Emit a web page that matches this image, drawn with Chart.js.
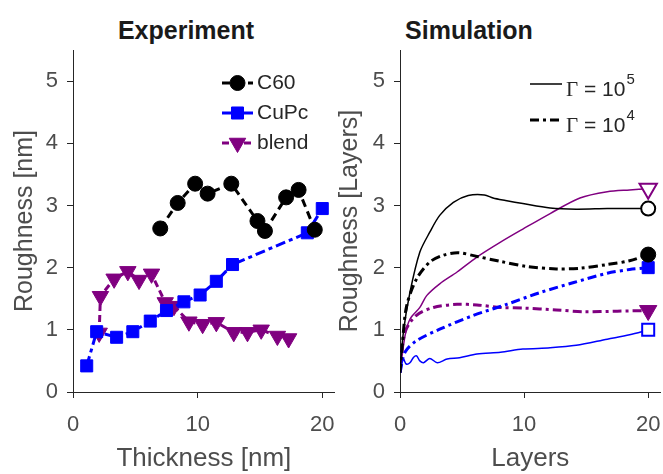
<!DOCTYPE html>
<html>
<head>
<meta charset="utf-8">
<script src="https://cdn.jsdelivr.net/npm/chart.js@4/dist/chart.umd.min.js"></script>
<style>
  body { margin: 0; background: #fff; }
  #wrap { position: relative; width: 663px; height: 474px; overflow: hidden; }
  canvas { position: absolute; top: 0; }
  .panel-title { position: absolute; top: 18px; width: 200px; text-align: center;
    font: bold 25px/25px 'Liberation Sans', Arial, sans-serif; color: #1a1a1a; }
</style>
</head>
<body>
<div id="wrap">
  <div class="panel-title" style="left:86px">Experiment</div>
  <div class="panel-title" style="left:369px">Simulation</div>
  <canvas id="exp" width="349" height="474" style="left:0"></canvas>
  <canvas id="sim" width="340" height="474" style="left:335px"></canvas>
</div>
<script>
// tick labels
const xTicks = [0, 10, 20];
const yTicks = [0, 1, 2, 3, 4, 5];

// experiment (thickness in nm, roughness in nm)
const c60X = [7.0, 8.4, 9.8, 10.8, 12.7, 14.8, 15.4, 17.1, 18.1, 19.4];
const c60Y = [2.63, 3.04, 3.35, 3.19, 3.35, 2.75, 2.59, 3.13, 3.25, 2.61];
const cupcX = [1.1, 1.9, 3.5, 4.8, 6.2, 7.5, 8.9, 10.2, 11.5, 12.8, 18.8, 20.0];
const cupcY = [0.42, 0.97, 0.88, 0.97, 1.14, 1.31, 1.45, 1.56, 1.78, 2.05, 2.56, 2.95];
const blendX = [2.1, 2.2, 3.3, 4.4, 5.3, 6.3, 7.4, 8.1, 9.3, 10.4, 11.5, 12.9, 14.0, 15.1, 16.4, 17.3];
const blendY = [0.95, 1.54, 1.82, 1.94, 1.80, 1.90, 1.44, 1.38, 1.13, 1.09, 1.12, 0.96, 0.96, 1.00, 0.90, 0.86];

// simulation (layers), G5 = Gamma 1e5, G4 = Gamma 1e4
const c60G5X = [0, 0.27, 0.8, 1.6, 2.4, 3.2, 4.3, 5.5, 6.8, 7.5, 8.5, 9.9, 12.1, 14.2, 16.7, 18.5, 20];
const c60G5Y = [0.31, 0.96, 1.6, 2.25, 2.57, 2.84, 3.05, 3.16, 3.17, 3.12, 3.08, 3.03, 2.96, 2.94, 2.95, 2.95, 2.95];
const c60G4X = [0, 0.2, 0.54, 1.34, 2.4, 3.5, 4.7, 6.2, 8.1, 10.2, 12.6, 14.5, 16.7, 18.5, 20];
const c60G4Y = [0.31, 0.8, 1.39, 1.82, 2.09, 2.2, 2.24, 2.18, 2.1, 2.02, 1.98, 1.99, 2.05, 2.11, 2.21];
const cupcG5X = [0, 0.27, 0.5, 0.8, 1.1, 1.34, 1.6, 1.9, 2.4, 3.0, 3.8, 4.8, 6.2, 8.1, 9.9, 12.1, 14.2, 16.7, 18.5, 20];
const cupcG5Y = [0.31, 0.53, 0.45, 0.47, 0.56, 0.58, 0.5, 0.47, 0.54, 0.47, 0.53, 0.55, 0.61, 0.64, 0.69, 0.71, 0.75, 0.85, 0.92, 1.0];
const cupcG4X = [0, 0.4, 1.3, 3.2, 5.9, 8.6, 11.3, 14.0, 16.7, 18.5, 20];
const cupcG4Y = [0.31, 0.64, 0.82, 1.01, 1.23, 1.41, 1.6, 1.76, 1.91, 1.97, 2.0];
const blendG5X = [0, 0.4, 0.8, 1.6, 2.15, 3.2, 4.6, 6.2, 8.1, 9.9, 12.1, 14.5, 16.7, 18.5, 20];
const blendG5Y = [0.31, 0.9, 1.17, 1.36, 1.55, 1.74, 1.93, 2.17, 2.41, 2.62, 2.87, 3.12, 3.22, 3.25, 3.27];
const blendG4X = [0, 0.4, 1.3, 2.7, 4.6, 6.2, 8.1, 9.9, 12.6, 14.8, 17.5, 20];
const blendG4Y = [0.31, 0.96, 1.23, 1.36, 1.41, 1.40, 1.36, 1.35, 1.32, 1.29, 1.30, 1.31];

const BLACK = '#000000';
const BLUE = '#0000ff';
const PURPLE = '#800080';
const AXIS = '#262626';
const LABEL = '#4d4d4d';

Chart.defaults.font.family = "'Liberation Sans', Arial, sans-serif";
Chart.defaults.animation = false;

function pts(xs, ys) {
  return xs.map((x, i) => ({ x: x, y: ys[i] }));
}

// draws a little matlab-style legend (line sample + optional marker + text)
const panelLegend = {
  id: 'panelLegend',
  afterDatasetsDraw(chart, args, opts) {
    const { ctx, chartArea } = chart;
    const family = Chart.defaults.font.family;
    opts.items.forEach((item, i) => {
      const ds = chart.data.datasets[item.dataset];
      const y = chartArea.top + opts.top + i * opts.gap;
      const x0 = chartArea.left + opts.left;
      const x1 = x0 + opts.lineLength;
      ctx.save();
      ctx.strokeStyle = ds.borderColor;
      ctx.lineWidth = ds.borderWidth;
      ctx.setLineDash(ds.borderDash || []);
      ctx.beginPath();
      ctx.moveTo(x0, y);
      ctx.lineTo(x1, y);
      ctx.stroke();
      ctx.setLineDash([]);
      if (opts.markers) {
        ctx.fillStyle = ds.pointBackgroundColor;
        ctx.strokeStyle = ds.pointBorderColor;
        ctx.lineWidth = ds.pointBorderWidth;
        Chart.helpers.drawPoint(ctx, {
          pointStyle: ds.pointStyle,
          radius: ds.pointRadius,
          rotation: ds.pointRotation || 0,
          borderWidth: ds.pointBorderWidth
        }, (x0 + x1) / 2, y);
      }
      let tx = x1 + opts.textGap;
      const ty = y + (opts.textShift || 0);
      ctx.fillStyle = opts.color;
      ctx.textBaseline = 'middle';
      if (item.symbol) {
        // greek symbol in a serif face, like the tex interpreter
        ctx.font = opts.size + "px 'Liberation Serif', serif";
        ctx.fillText(item.symbol, tx, ty);
        tx += ctx.measureText(item.symbol).width;
      }
      const text = item.text || ds.label;
      ctx.font = opts.size + 'px ' + family;
      ctx.fillText(text, tx, ty);
      if (item.sup) {
        const w = ctx.measureText(text).width;
        ctx.font = opts.supSize + 'px ' + family;
        ctx.fillText(item.sup, tx + w + 1, ty - opts.supRise);
      }
      ctx.restore();
    });
  }
};

function axes(xLabel, yLabel, yWidth, yTitlePad) {
  const grid = { drawOnChartArea: false, drawTicks: true, tickLength: 6, tickColor: AXIS };
  const border = { display: true, color: AXIS, width: 1 };
  return {
    x: {
      type: 'linear', min: 0, max: 21, border: border, grid: grid,
      ticks: { color: LABEL, font: { size: 22 }, padding: 14 },
      afterBuildTicks: s => { s.ticks = xTicks.map(v => ({ value: v })); },
      afterFit: s => { s.height = 82; },
      title: { display: true, text: xLabel, color: LABEL, font: { size: 26 }, padding: 0 }
    },
    y: {
      type: 'linear', min: 0, max: 5.5, border: border, grid: grid,
      ticks: { color: LABEL, font: { size: 22 }, padding: 9 },
      afterBuildTicks: s => { s.ticks = yTicks.map(v => ({ value: v })); },
      afterFit: s => { s.width = yWidth; },
      title: { display: true, text: yLabel, color: LABEL, font: { size: 25 }, padding: { top: yTitlePad, bottom: 0 } }
    }
  };
}

new Chart(document.getElementById('exp'), {
  type: 'line',
  data: {
    datasets: [
      {
        label: 'C60', data: pts(c60X, c60Y),
        borderColor: BLACK, borderWidth: 3, borderDash: [8, 5],
        pointStyle: 'circle', pointRadius: 7.5, pointBorderWidth: 1,
        pointBackgroundColor: BLACK, pointBorderColor: BLACK
      },
      {
        label: 'CuPc', data: pts(cupcX, cupcY),
        borderColor: BLUE, borderWidth: 3, borderDash: [10, 4, 4, 4],
        pointStyle: 'rect', pointRadius: 8.5, pointBorderWidth: 1,
        pointBackgroundColor: BLUE, pointBorderColor: BLUE
      },
      {
        label: 'blend', data: pts(blendX, blendY),
        borderColor: PURPLE, borderWidth: 3, borderDash: [7, 4],
        pointStyle: 'triangle', pointRotation: 180, pointRadius: 9.5, pointBorderWidth: 1,
        pointBackgroundColor: PURPLE, pointBorderColor: PURPLE
      }
    ]
  },
  options: {
    responsive: false,
    layout: { padding: { top: 50, right: 0, left: 0, bottom: 0 } },
    scales: axes('Thickness [nm]', 'Roughness [nm]', 73, 10),
    plugins: {
      legend: { display: false },
      tooltip: { enabled: false },
      panelLegend: {
        items: [{ dataset: 0 }, { dataset: 1 }, { dataset: 2 }],
        left: 149, top: 33, gap: 30, lineLength: 31, textGap: 4,
        markers: true, color: AXIS, size: 21
      }
    }
  },
  plugins: [panelLegend]
});

function endMarker(r) {
  return ctx => (ctx.dataIndex === ctx.dataset.data.length - 1 ? r : 0);
}

const solid = { borderWidth: 1.5, tension: 0.3, pointBorderWidth: 2 };
const dashDot = { borderWidth: 3, borderDash: [9, 4, 3, 4], tension: 0.3, pointBorderWidth: 1 };

new Chart(document.getElementById('sim'), {
  type: 'line',
  data: {
    datasets: [
      Object.assign({ label: 'C60 1e5', data: pts(c60G5X, c60G5Y), borderColor: BLACK,
        pointStyle: 'circle', pointRadius: endMarker(7),
        pointBackgroundColor: '#fff', pointBorderColor: BLACK }, solid),
      Object.assign({ label: 'C60 1e4', data: pts(c60G4X, c60G4Y), borderColor: BLACK,
        pointStyle: 'circle', pointRadius: endMarker(7.5),
        pointBackgroundColor: BLACK, pointBorderColor: BLACK }, dashDot),
      Object.assign({ label: 'CuPc 1e5', data: pts(cupcG5X, cupcG5Y), borderColor: BLUE,
        pointStyle: 'rect', pointRadius: endMarker(8.5),
        pointBackgroundColor: '#fff', pointBorderColor: BLUE }, solid),
      Object.assign({ label: 'CuPc 1e4', data: pts(cupcG4X, cupcG4Y), borderColor: BLUE,
        pointStyle: 'rect', pointRadius: endMarker(8.5),
        pointBackgroundColor: BLUE, pointBorderColor: BLUE }, dashDot),
      Object.assign({ label: 'blend 1e5', data: pts(blendG5X, blendG5Y), borderColor: PURPLE,
        pointStyle: 'triangle', pointRotation: 180, pointRadius: endMarker(10),
        pointBackgroundColor: '#fff', pointBorderColor: PURPLE }, solid),
      Object.assign({ label: 'blend 1e4', data: pts(blendG4X, blendG4Y), borderColor: PURPLE,
        pointStyle: 'triangle', pointRotation: 180, pointRadius: endMarker(10),
        pointBackgroundColor: PURPLE, pointBorderColor: PURPLE }, dashDot)
    ]
  },
  options: {
    responsive: false,
    layout: { padding: { top: 50, right: 0, left: 0, bottom: 0 } },
    scales: axes('Layers', 'Roughness [Layers]', 65, 0),
    plugins: {
      legend: { display: false },
      tooltip: { enabled: false },
      panelLegend: {
        items: [
          { dataset: 0, symbol: '\u0393', text: ' = 10', sup: '5' },
          { dataset: 1, symbol: '\u0393', text: ' = 10', sup: '4' }
        ],
        left: 130, top: 34, gap: 36, lineLength: 32, textGap: 4, textShift: 6,
        markers: false, color: AXIS, size: 21, supSize: 15, supRise: 10
      }
    }
  },
  plugins: [panelLegend]
});
</script>
</body>
</html>
